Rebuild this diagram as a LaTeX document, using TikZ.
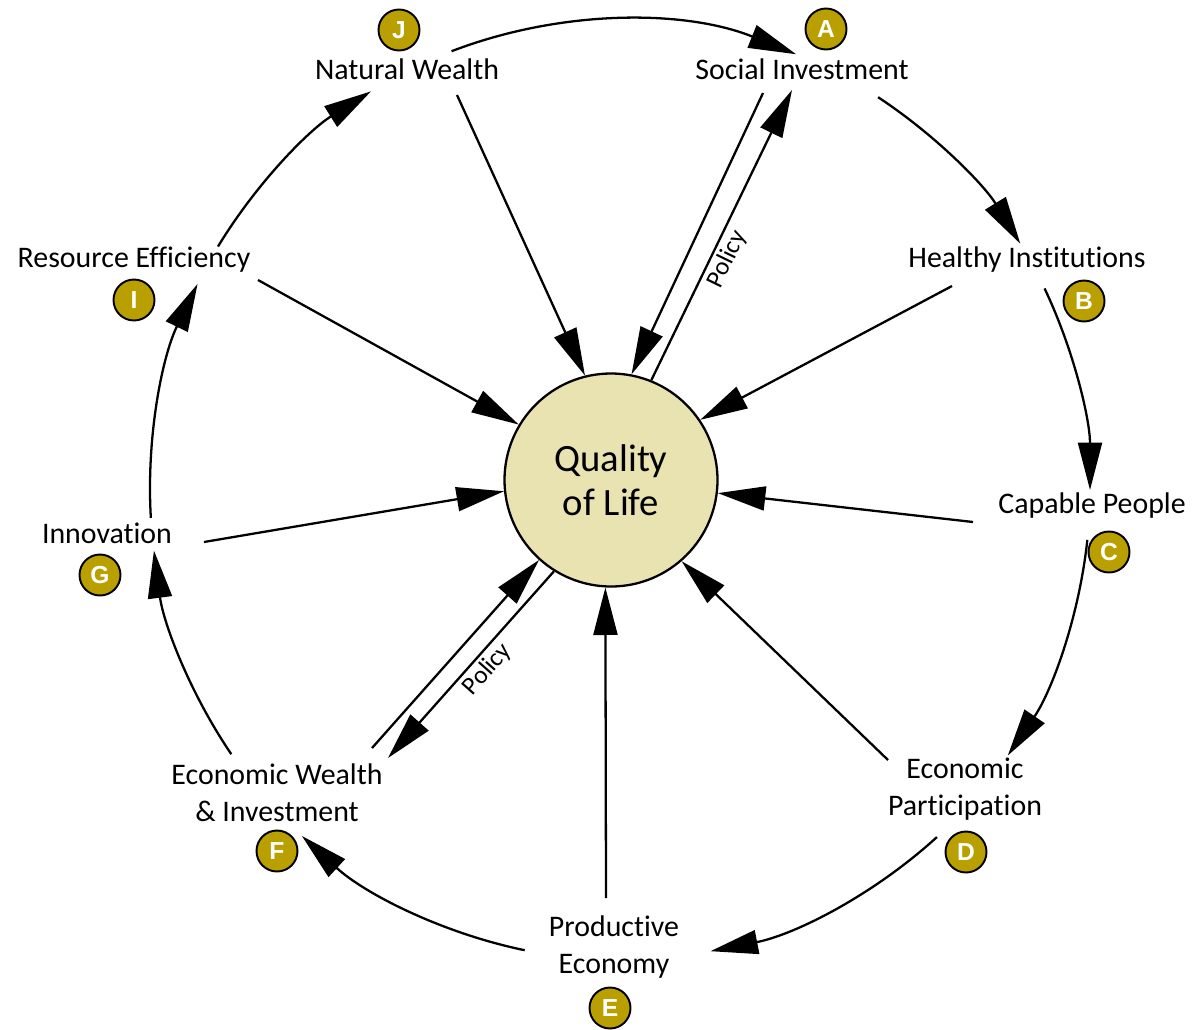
\documentclass[tikz,border=0pt]{standalone}
\usepackage{fontspec}
\setmainfont{Carlito}[Ligatures=NoCommon]
\newfontfamily\badgefont{Liberation Sans}
\usetikzlibrary{arrows.meta,calc}
\definecolor{badgegold}{RGB}{185,160,0}
\definecolor{qolfill}{RGB}{233,227,178}
\tikzset{
    line/.style     = {-{Triangle[length=0.95cm,width=0.48cm]}, line width=1.3pt, draw=black},
    ringline/.style = {line},
    factor/.style   = {align=center, inner sep=2pt, font=\fontsize{17}{21}\selectfont},
    badge/.style    = {circle, draw=black, line width=1.1pt, fill=badgegold, minimum size=0.82cm,
                       inner sep=0pt, text=white, font=\badgefont\bfseries\fontsize{14}{14}\selectfont},
    qolcircle/.style = {circle, draw=black, line width=1.3pt, fill=qolfill, minimum size=4.26cm,
                       inner sep=0pt, align=center, font=\fontsize{22}{25}\selectfont},
    policylbl/.style = {inner sep=2pt, font=\fontsize{14.5}{16}\selectfont}
}

\begin{document}
\begin{tikzpicture}
    \useasboundingbox (0,0) rectangle (24.02,-20.58);

    % --- Centre ---
    \node[qolcircle] (qol) at (12.22,-9.60) {Quality\\of\ Life};
    \coordinate (hub) at (12.40,-9.80);

    % --- Factor Nodes ---
    \node[factor] (nat_wealth)  at (8.14,-1.38)   {Natural Wealth};
    \node[factor] (soc_inv)     at (16.04,-1.38)  {Social Investment};
    \node[factor] (healthy)     at (20.54,-5.20)  {Healthy Institutions};
    \node[factor] (capable)     at (21.84,-10.12) {Capable People};
    \node[factor] (econ_part)   at (19.30,-15.78) {Economic\\Participation};
    \node[factor] (productive)  at (12.28,-18.94) {Productive\\Economy};
    \node[factor] (econ_wealth) at (5.54,-15.86)  {Economic Wealth\\\& Investment};
    \node[factor] (innovation)  at (2.14,-10.66)  {Innovation};
    \node[factor] (resource)    at (2.68,-5.20)   {Resource Efficiency};

    % --- Badges ---
    \node[badge] (badge_a) at (16.52,-0.58)  {A};
    \node[badge] (badge_b) at (21.68,-6.02)  {B};
    \node[badge] (badge_c) at (22.18,-11.04) {C};
    \node[badge] (badge_d) at (19.32,-17.04) {D};
    \node[badge] (badge_e) at (12.20,-20.16) {E};
    \node[badge] (badge_f) at (5.54,-17.02)  {F};
    \node[badge] (badge_g) at (2.00,-11.50)  {G};
    \node[badge] (badge_i) at (2.68,-6.00)   {I};
    \node[badge] (badge_j) at (7.98,-0.60)   {J};

    % --- Outer Cycle ---
    \draw[ringline] ([shift={(111:9.4)}]hub)    arc[start angle=111,    end angle=68,     radius=9.4];
    \draw[ringline] ([shift={(56.7:9.4)}]hub)   arc[start angle=56.7,   end angle=31.6,   radius=9.4];
    \draw[ringline] ([shift={(25.4:9.4)}]hub)   arc[start angle=25.4,   end angle=0,      radius=9.4];
    \draw[ringline] ([shift={(-6.1:9.4)}]hub)   arc[start angle=-6.1,   end angle=-34.4,  radius=9.4];
    \draw[ringline] ([shift={(-47.6:9.4)}]hub)  arc[start angle=-47.6,  end angle=-78.9,  radius=9.4];
    \draw[ringline] ([shift={(-101.7:9.4)}]hub) arc[start angle=-101.7, end angle=-132.6, radius=9.4];
    \draw[ringline] ([shift={(214.2:9.4)}]hub)  arc[start angle=214.2,  end angle=187.4,  radius=9.4];
    \draw[ringline] ([shift={(183.4:9.4)}]hub)  arc[start angle=183.4,  end angle=154,    radius=9.4];
    \draw[ringline] ([shift={(148.8:9.4)}]hub)  arc[start angle=148.8,  end angle=122,    radius=9.4];

    % --- Spokes into Quality of Life ---
    \draw[line] ([shift={(1.00,-0.52)}]nat_wealth.center)  -- (qol.104.3);
    \draw[line] ([shift={(2.48,-0.40)}]resource.center)    -- (qol.149);
    \draw[line] ([shift={(1.94,-0.18)}]innovation.center)  -- (qol.186.3);
    \draw[line] ([shift={(1.90,0.90)}]econ_wealth.center)  -- (qol.228.4);
    \draw[line] ([shift={(-0.16,0.98)}]productive.center)  -- (qol.267.3);
    \draw[line] ([shift={(-1.54,0.58)}]econ_part.center)   -- (qol.311.2);
    \draw[line] ([shift={(-2.38,-0.32)}]capable.center)    -- (qol.-7.5);
    \draw[line] ([shift={(-1.50,-0.52)}]healthy.center)    -- (qol.34.9);
    \draw[line] ([shift={(-0.78,-0.48)}]soc_inv.center)    -- (qol.79.5);

    % Policy routing
    \draw[line] (qol.68.1) -- ([shift={(-0.20,-0.42)}]soc_inv.center)
        node[policylbl, pos=0.44, sloped, below] {Policy};
    \draw[line] (qol.238.9) -- ([shift={(2.22,0.70)}]econ_wealth.center)
        node[policylbl, pos=0.47, sloped, below] {Policy};
\end{tikzpicture}
\end{document}
